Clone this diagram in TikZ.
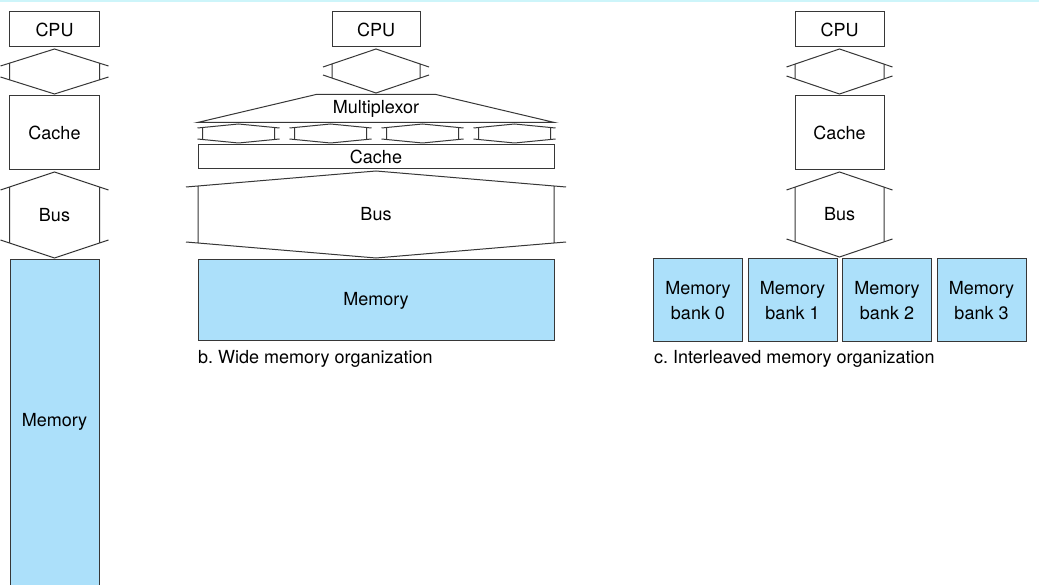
\documentclass[tikz,border=0pt]{standalone}
\usepackage{fontspec}
\setmainfont{TeX Gyre Heros}
\usepackage{tikz}
\usetikzlibrary{calc,positioning}
\definecolor{memblue}{RGB}{172,224,250}
\definecolor{lineclr}{RGB}{55,55,55}
\definecolor{topline}{RGB}{205,245,250}
\newcommand{\diafont}{\fontsize{18}{25}\selectfont}
\tikzset{
    box/.style={
        draw=lineclr, rectangle, line width=1pt,
        inner sep=0pt, text=black, font=\diafont
    },
    membox/.style={box, fill=memblue, align=center},
    bankbox/.style={membox, minimum width=89pt, minimum height=83pt},
    busline/.style={draw=lineclr, line width=1pt, line join=miter},
    buslabel/.style={inner sep=0pt, font=\diafont},
    caption/.style={anchor=west, inner sep=0pt, font=\diafont}
}
% #1 upper end, #2 lower end, #3 half width, #4 overhang, #5 rise
\newcommand{\busconn}[5]{
    \draw[busline] let \n1 = {#5*#3/(#3+#4)} in
        ($(#1)+(-#3-#4,#5+1.5)$) -- ($(#1)+(0,1.5)$) -- ($(#1)+(#3+#4,#5+1.5)$)
        ($(#2)+(-#3-#4,-#5-1.5)$) -- ($(#2)+(0,-1.5)$) -- ($(#2)+(#3+#4,-#5-1.5)$)
        ($(#1)+(-#3,\n1+1.5)$) -- ($(#2)+(-#3,-\n1-1.5)$)
        ($(#1)+(#3,\n1+1.5)$) -- ($(#2)+(#3,-\n1-1.5)$);
}
\begin{document}
\begin{tikzpicture}[x=1pt, y=-1pt]
    \clip (0,0) rectangle (1039,585);
    \fill[white] (0,0) rectangle (1039,585);
    \fill[topline] (0,0) rectangle (1039,2);

    % one word wide
    \node[box, minimum width=90pt, minimum height=35pt] (cpua) at (54.5,29.5) {CPU};
    \node[box, minimum width=90pt, minimum height=74pt] (cachea) at (54.5,133) {Cache};
    \node[membox, minimum width=89pt, minimum height=340pt,
        label={[font=\diafont, yshift=8pt]center:Memory}] (mema) at (54.5,430) {};
    \busconn{cpua.south}{cachea.north}{45}{9}{17}
    \busconn{cachea.south}{mema.north}{45}{9}{18}
    \node[buslabel] (busa) at ($(cachea.south)!0.5!(mema.north)$) {Bus};

    % wide memory
    \node[box, minimum width=88pt, minimum height=35pt] (cpub) at (376,29.5) {CPU};
    \node[box, draw=none, minimum width=356pt, minimum height=27pt] (mux) at (376,108.5) {Multiplexor};
    \draw[busline] (mux.south west) -- ($(mux.north)+(-60,0)$)
        -- ($(mux.north)+(60,0)$) -- (mux.south east) -- cycle;
    \node[box, minimum width=356pt, minimum height=24pt] (cacheb) at (376,157) {Cache};
    \node[membox, minimum width=356pt, minimum height=81pt] (memb) at (376,300.5) {Memory};
    \busconn{cpub.south}{mux.north}{44}{9}{18}
    \foreach \i in {1,...,4} {
        \coordinate (muxout\i) at ($(mux.south west)+(41+92*\i-92,0)$);
        \coordinate (cachein\i) at ($(cacheb.north west)+(41+92*\i-92,0)$);
        \busconn{muxout\i}{cachein\i}{36}{5}{4}
    }
    \busconn{cacheb.south}{memb.north}{178}{12}{16}
    \node[buslabel] (busb) at ($(cacheb.south)!0.5!(memb.north)$) {Bus};
    \node[caption] (capb) at (198,359) {b.\ Wide memory organization};

    % interleaved memory
    \node[box, minimum width=89pt, minimum height=35pt] (cpuc) at (839.5,29.5) {CPU};
    \node[box, minimum width=89pt, minimum height=74pt] (cachec) at (839.5,133) {Cache};
    \node[bankbox] (bank0) at (698,300.5) {Memory\\bank 0};
    \foreach \i [count=\j from 0] in {1,2,3}
        \node[bankbox, right=4.5pt of bank\j] (bank\i) {Memory\\bank \i};
    \coordinate (banksplit) at (cachec.south |- bank1.north);
    \busconn{cpuc.south}{cachec.north}{44.5}{8.5}{18}
    \busconn{cachec.south}{banksplit}{44.5}{8.5}{18}
    \node[buslabel] (busc) at ($(cachec.south)!0.5!(banksplit)$) {Bus};
    \node[caption] (capc) at (654,359) {c.\ Interleaved memory organization};
\end{tikzpicture}
\end{document}
